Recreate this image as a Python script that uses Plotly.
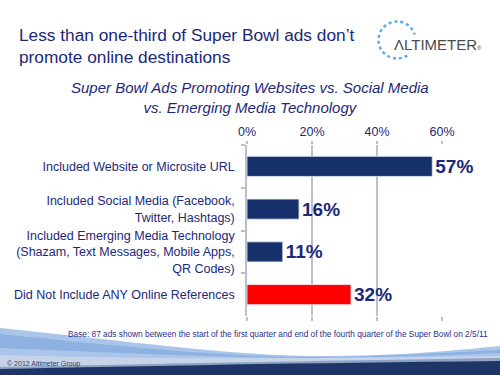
import plotly.graph_objects as go

categories = [
    "Included Website or Microsite URL",
    "Included Social Media (Facebook,<br>Twitter, Hashtags)",
    "Included Emerging Media Technology<br>(Shazam, Text Messages, Mobile Apps,<br>QR Codes)",
    "Did Not Include ANY Online References",
]
values = [57, 16, 11, 32]
bar_colors = ["#16316b", "#16316b", "#16316b", "#ff0000"]
x_ticks = [0, 20, 40, 60]
x_tick_labels = ["0%", "20%", "40%", "60%"]

title_text = "Less than one-third of Super Bowl ads don\u2019t<br>promote online destinations"
subtitle_text = "Super Bowl Ads Promoting Websites vs. Social Media<br>vs. Emerging Media Technology"
base_text = "Base: 87 ads shown between the start of the first quarter and end of the fourth quarter of the Super Bowl on 2/5/11"
copyright_text = "\u00a9 2012 Altimeter Group"

W, H = 500, 375
L, R, T, B = 247, 442, 145, 316
NAVY = "#1c2878"
FONT = "Liberation Sans, Arial, sans-serif"
GRID = "#b9c0d3"


def px(x):
    return (x - L) / (R - L)


def py(y):
    return (B - y) / (B - T)


def path(points_cmds):
    out = []
    for cmd in points_cmds:
        if isinstance(cmd, str):
            out.append(cmd)
        else:
            out.append(f"{px(cmd[0]):.4f},{py(cmd[1]):.4f}")
    return " ".join(out)


fig = go.Figure()
fig.add_trace(go.Bar(
    y=categories,
    x=values,
    orientation="h",
    width=0.47,
    marker=dict(color=bar_colors, line=dict(color="#e8ecf4", width=0.8)),
    texttemplate="<b>%{x}%</b>",
    textposition="outside",
    textfont=dict(family=FONT, size=19, color=NAVY),
    constraintext="none",
    cliponaxis=False,
    hoverinfo="skip",
))
# invisible companion on a bottom axis so its ticks are drawn
fig.add_trace(go.Scatter(x=[values[0]], y=[categories[0]], xaxis="x2", mode="markers",
                         marker=dict(opacity=0), hoverinfo="skip", showlegend=False))

# decorative swoosh at bottom
swoosh = [
    ("#a9c6ea", [
        "M", (0, 328), "C", (120, 340), (230, 356), (320, 356),
        "C", (400, 356), (460, 350), (500, 346),
        "L", (500, 375), "L", (0, 375), "Z"]),
    ("#8db2e2", [
        "M", (0, 334), "C", (120, 346), (230, 358), (320, 357),
        "C", (400, 356), (460, 352), (500, 350),
        "L", (500, 375), "L", (0, 375), "Z"]),
    ("#abc5ea", [
        "M", (0, 348), "C", (120, 353), (230, 358), (320, 358),
        "C", (400, 357), (460, 355), (500, 353),
        "L", (500, 375), "L", (0, 375), "Z"]),
    ("#c6d3e8", [
        "M", (0, 355), "C", (150, 359), (300, 359), (500, 356),
        "L", (500, 375), "L", (0, 375), "Z"]),
    ("#8ea2c4", [
        "M", (0, 367), "C", (150, 364), (300, 361), (500, 358),
        "L", (500, 375), "L", (0, 375), "Z"]),
    ("#1e3667", [
        "M", (0, 369), "C", (150, 366), (300, 363), (500, 361),
        "L", (500, 375), "L", (0, 375), "Z"]),
]
shapes = []
for color, cmds in swoosh:
    shapes.append(dict(type="path", xref="paper", yref="paper", path=path(cmds),
                       fillcolor=color, line=dict(width=0), layer="below"))

# logo dotted circle
cx, cy, r = 397, 40, 18.5
shapes.append(dict(type="circle", xref="paper", yref="paper",
                   x0=px(cx - r), x1=px(cx + r), y0=py(cy + r), y1=py(cy - r),
                   line=dict(color="#5aaee6", width=2.5, dash="dot"), layer="above"))

annotations = [
    dict(text=title_text, x=px(17), y=py(46), xref="paper", yref="paper",
         xanchor="left", yanchor="middle", align="left", showarrow=False,
         font=dict(family=FONT, size=17.3, color=NAVY)),
    dict(text="<i>" + subtitle_text + "</i>", x=px(250), y=py(97), xref="paper", yref="paper",
         xanchor="center", yanchor="middle", align="center", showarrow=False,
         font=dict(family=FONT, size=15, color=NAVY)),
    dict(text="\u039bLTIMETER<span style='font-size:6px'>\u00ae</span>", x=px(392), y=py(44),
         xref="paper", yref="paper",
         xanchor="left", yanchor="middle", showarrow=False, bgcolor="white",
         font=dict(family=FONT, size=15, color="#4a4a4a")),
    dict(text=base_text, x=px(490), y=py(334), xref="paper", yref="paper",
         xanchor="right", yanchor="middle", showarrow=False,
         font=dict(family=FONT, size=8.3, color="#2b2f8c")),
    dict(text=copyright_text, x=px(5), y=py(364), xref="paper", yref="paper",
         xanchor="left", yanchor="middle", showarrow=False,
         font=dict(family=FONT, size=7, color="#34405e")),
]

fig.update_layout(
    width=W, height=H,
    margin=dict(l=L, r=W - R, t=T, b=H - B, pad=0),
    paper_bgcolor="white", plot_bgcolor="white",
    showlegend=False,
    bargap=0.53,
    shapes=shapes,
    annotations=annotations,
    xaxis=dict(
        range=[0, 60], side="top", tickvals=x_ticks, ticktext=x_tick_labels,
        showgrid=True, gridcolor=GRID, gridwidth=1.5,
        ticks="outside", ticklen=3, tickcolor=GRID, tickwidth=1.5,
        showline=False, zeroline=False,
        tickfont=dict(family=FONT, size=12.5, color=NAVY), fixedrange=True,
    ),
    xaxis2=dict(
        range=[0, 60], side="bottom", overlaying="x", anchor="y", tickvals=x_ticks,
        showticklabels=False, showgrid=False, zeroline=False, showline=False,
        ticks="outside", ticklen=4, tickcolor=GRID, tickwidth=1.5, fixedrange=True,
    ),
    yaxis=dict(
        autorange="reversed", showgrid=False, showline=True, linecolor=GRID, linewidth=1.5,
        ticks="outside", tickson="boundaries", ticklen=4, tickcolor=GRID, tickwidth=1.5,
        ticklabelstandoff=8,
        tickfont=dict(family=FONT, size=12.5, color=NAVY), fixedrange=True,
    ),
)

fig.write_html("out.html", config={"displayModeBar": False},
               post_script="document.body.style.margin='0';document.body.style.overflow='hidden';")
